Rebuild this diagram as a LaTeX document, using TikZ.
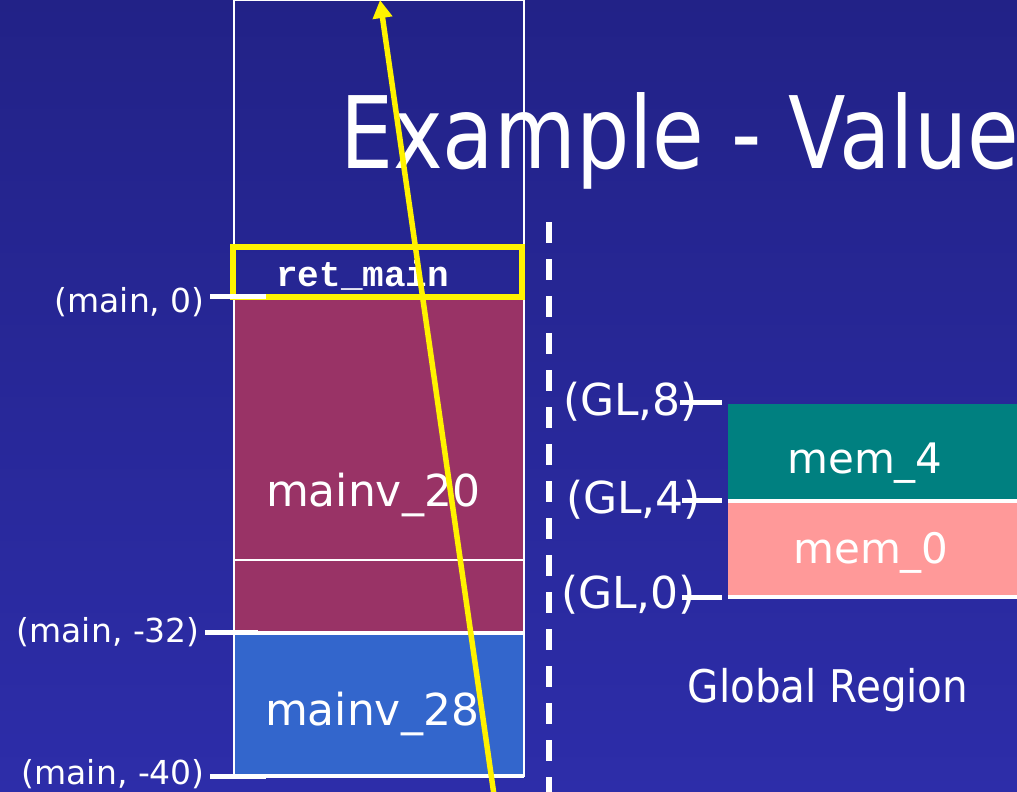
\documentclass[tikz,border=0pt]{standalone}
\usepackage{fontspec}
\setmainfont{DejaVu Sans}
\newfontfamily\codefont{Liberation Mono}
\usetikzlibrary{arrows.meta}
\definecolor{bgtop}{HTML}{222287}
\definecolor{bgbot}{HTML}{2D2DA9}
\definecolor{maroon}{HTML}{993366}
\definecolor{stackblue}{HTML}{3366CC}
\definecolor{tealc}{HTML}{008080}
\definecolor{pinkish}{HTML}{FF9999}
\tikzset{
  lbl/.style={text=white, inner sep=0pt, font=\fontsize{33}{40}\selectfont},
  gllbl/.style={text=white, inner sep=0pt, font=\fontsize{44}{50}\selectfont},
  celltxt/.style={text=white, inner sep=0pt, font=\fontsize{44}{50}\selectfont},
  tick/.style={white, line width=5pt},
  thinw/.style={white, line width=1.2pt},
  thickw/.style={white, line width=3.5pt},
}
\begin{document}
\begin{tikzpicture}[x=1pt,y=-1pt]
\useasboundingbox (0,0) rectangle (1017,792);
\clip (0,0) rectangle (1017,792);
\shade[top color=bgtop, bottom color=bgbot] (0,0) rectangle (1017,792);
% title
\node[anchor=base west, text=white, inner sep=0pt, xscale=0.84, font=\fontsize{100}{110}\selectfont] (title) at (340,168) {Example - Value};
% stack
\fill[maroon] (234,298) rectangle (524,633);
\fill[stackblue] (234,633) rectangle (524,776);
\draw[thinw] (234,0) rectangle (524,776);
\draw[thinw] (234,560) -- (524,560);
\draw[thickw] (234,633) -- (524,633);
\draw[thickw] (234,776) -- (524,776);
\node[anchor=base west, text=white, inner sep=0pt, font=\codefont\bfseries\fontsize{36}{40}\selectfont] (ret) at (276,286) {ret\_main};
\node[draw=yellow, line width=6pt, minimum width=289pt, minimum height=50pt, inner sep=0pt] (retbox) at (377,272) {};
\node[celltxt, anchor=base] (m20) at (373,506) {mainv\_20};
\node[celltxt, anchor=base] (m28) at (372,725) {mainv\_28};
% left labels
\node[lbl, anchor=base east] (l0) at (205,312) {(main, 0)};
\node[lbl, anchor=base east] (l32) at (200,642) {(main, -32)};
\node[lbl, anchor=base east] (l40) at (205,784) {(main, -40)};
\coordinate (t0) at (266,296);
\coordinate (t32) at (258,632);
\coordinate (t40) at (266,776);
\draw[tick] (210,296) -- (t0);
\draw[tick] (205,632) -- (t32);
\draw[tick] (210,776) -- (t40);
% dashed separator
\coordinate (dtop) at (549,222);
\coordinate (dbot) at (549,792);
\draw[white, line width=5.5pt, dash pattern=on 21pt off 16pt] (dtop) -- (dbot);
% global region
\fill[tealc] (728,404) rectangle (1017,500);
\fill[pinkish] (728,501) rectangle (1017,597);
\draw[thickw] (728,501) -- (1017,501);
\draw[thickw] (728,597) -- (1017,597);
\node[celltxt, anchor=base, font=\fontsize{42}{48}\selectfont] (mem4) at (865,473) {mem\_4};
\node[celltxt, anchor=base, font=\fontsize{42}{48}\selectfont] (mem0) at (871,563) {mem\_0};
\node[gllbl, anchor=base west] (g8) at (563,415) {(GL,8)};
\node[gllbl, anchor=base west] (g4) at (566,513) {(GL,4)};
\node[gllbl, anchor=base west] (g0) at (561,608) {(GL,0)};
\coordinate (gt8) at (722,402);
\coordinate (gt4) at (722,500);
\coordinate (gt0) at (722,597);
\draw[tick] (680,402) -- (gt8);
\draw[tick] (682,500) -- (gt4);
\draw[tick] (682,597) -- (gt0);
\node[text=white, inner sep=0pt, anchor=base, xscale=0.9, font=\fontsize{45}{50}\selectfont] (glob) at (828,702) {Global Region};
% yellow arrow
\coordinate (abot) at (494,795);
\coordinate (atop) at (380,0);
\draw[yellow, line width=5.5pt, -{Triangle[length=18pt,width=19pt]}] (abot) -- (atop);
\end{tikzpicture}
\end{document}
